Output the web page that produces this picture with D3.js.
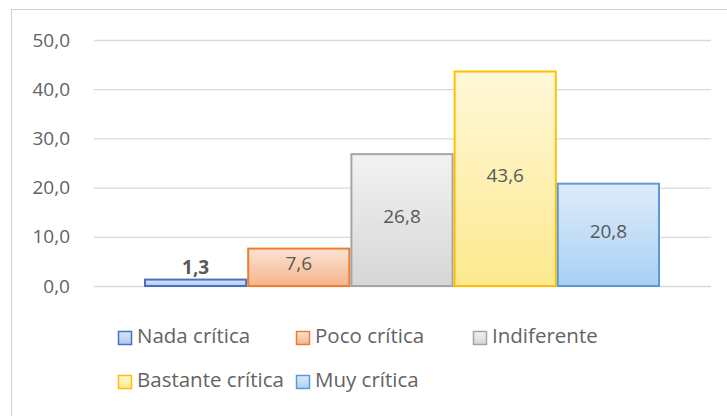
<!DOCTYPE html>
<html><head><meta charset="utf-8">
<script src="https://cdn.jsdelivr.net/npm/d3@7"></script>
<style>body{margin:0;background:#fff}svg{display:block}text{font-family:"Open Sans",sans-serif}</style>
</head><body><svg id="c" width="727" height="416"></svg>
<script>
const categories = ["Nada crítica","Poco crítica","Indiferente","Bastante crítica","Muy crítica"];
const values = [1.3, 7.6, 26.8, 43.6, 20.8];
const yTicks = [0,10,20,30,40,50];
const strokeColors = ["#4472C4","#ED7D31","#A5A5A5","#FFC000","#5B9BD5"];
const fillTop = ["#dce5f5","#fbe3d3","#f2f2f2","#fff8d9","#deecfa"];
const fillBot = ["#b4c7ec","#f6b48a","#d6d6d6","#fde98e","#a9d0f5"];

const svg = d3.select("#c");
svg.append("rect").attr("x",11.5).attr("y",9.5).attr("width",730).attr("height",420)
  .attr("fill","#fff").attr("stroke","#d0d0d0");

const y = d3.scaleLinear().domain([0,50]).range([286,40]);
const x = d3.scaleBand().domain(categories).range([144,660]).paddingInner(0).paddingOuter(0);

const defs = svg.append("defs");
categories.forEach((c,i)=>{
  const g = defs.append("linearGradient").attr("id","g"+i).attr("x1",0).attr("y1",0).attr("x2",0).attr("y2",1);
  g.append("stop").attr("offset","0%").attr("stop-color",fillTop[i]);
  g.append("stop").attr("offset","100%").attr("stop-color",fillBot[i]);
});

const yAxis = d3.axisLeft(y).tickValues(yTicks).tickSize(-617).tickPadding(24)
  .tickFormat(d=>d3.format(".1f")(d).replace(".",","));
const ga = svg.append("g").attr("transform","translate(94,0)").call(yAxis);
ga.select(".domain").remove();
ga.selectAll(".tick line").attr("stroke","#d9d9d9").attr("stroke-width",1.3);
ga.selectAll(".tick text").attr("fill","#636363").attr("font-size",19);

svg.selectAll(".bar").data(values).enter().append("rect")
  .attr("x",(d,i)=>x(categories[i])+1).attr("width",x.bandwidth()-2)
  .attr("y",d=>y(d)).attr("height",d=>y(0)-y(d))
  .attr("fill",(d,i)=>"url(#g"+i+")").attr("stroke",(d,i)=>strokeColors[i]).attr("stroke-width",2);

svg.selectAll(".lbl").data(values).enter().append("text")
  .attr("x",(d,i)=>x(categories[i])+x.bandwidth()/2)
  .attr("y",(d,i)=> i===0 ? y(d)-11 : (y(d)+y(0))/2 - 2)
  .attr("text-anchor","middle").attr("dominant-baseline","middle")
  .attr("font-size",19).attr("font-weight",(d,i)=>i===0?"bold":"normal")
  .attr("fill","#595959")
  .text(d=>d3.format(".1f")(d).replace(".",","));

const legendPos = [[118,338],[296,338],[473,338],[118,382],[296,382]];
const lg = svg.selectAll(".leg").data(categories).enter().append("g")
  .attr("transform",(d,i)=>`translate(${legendPos[i][0]},${legendPos[i][1]})`);
lg.append("rect").attr("x",0.5).attr("y",-6.5).attr("width",13).attr("height",13)
  .attr("fill",(d,i)=>"url(#g"+i+")").attr("stroke",(d,i)=>strokeColors[i]).attr("stroke-width",1.5);
lg.append("text").attr("x",19).attr("y",0).attr("dominant-baseline","middle")
  .attr("font-size",20.5).attr("fill","#636363").text(d=>d);
</script></body></html>
